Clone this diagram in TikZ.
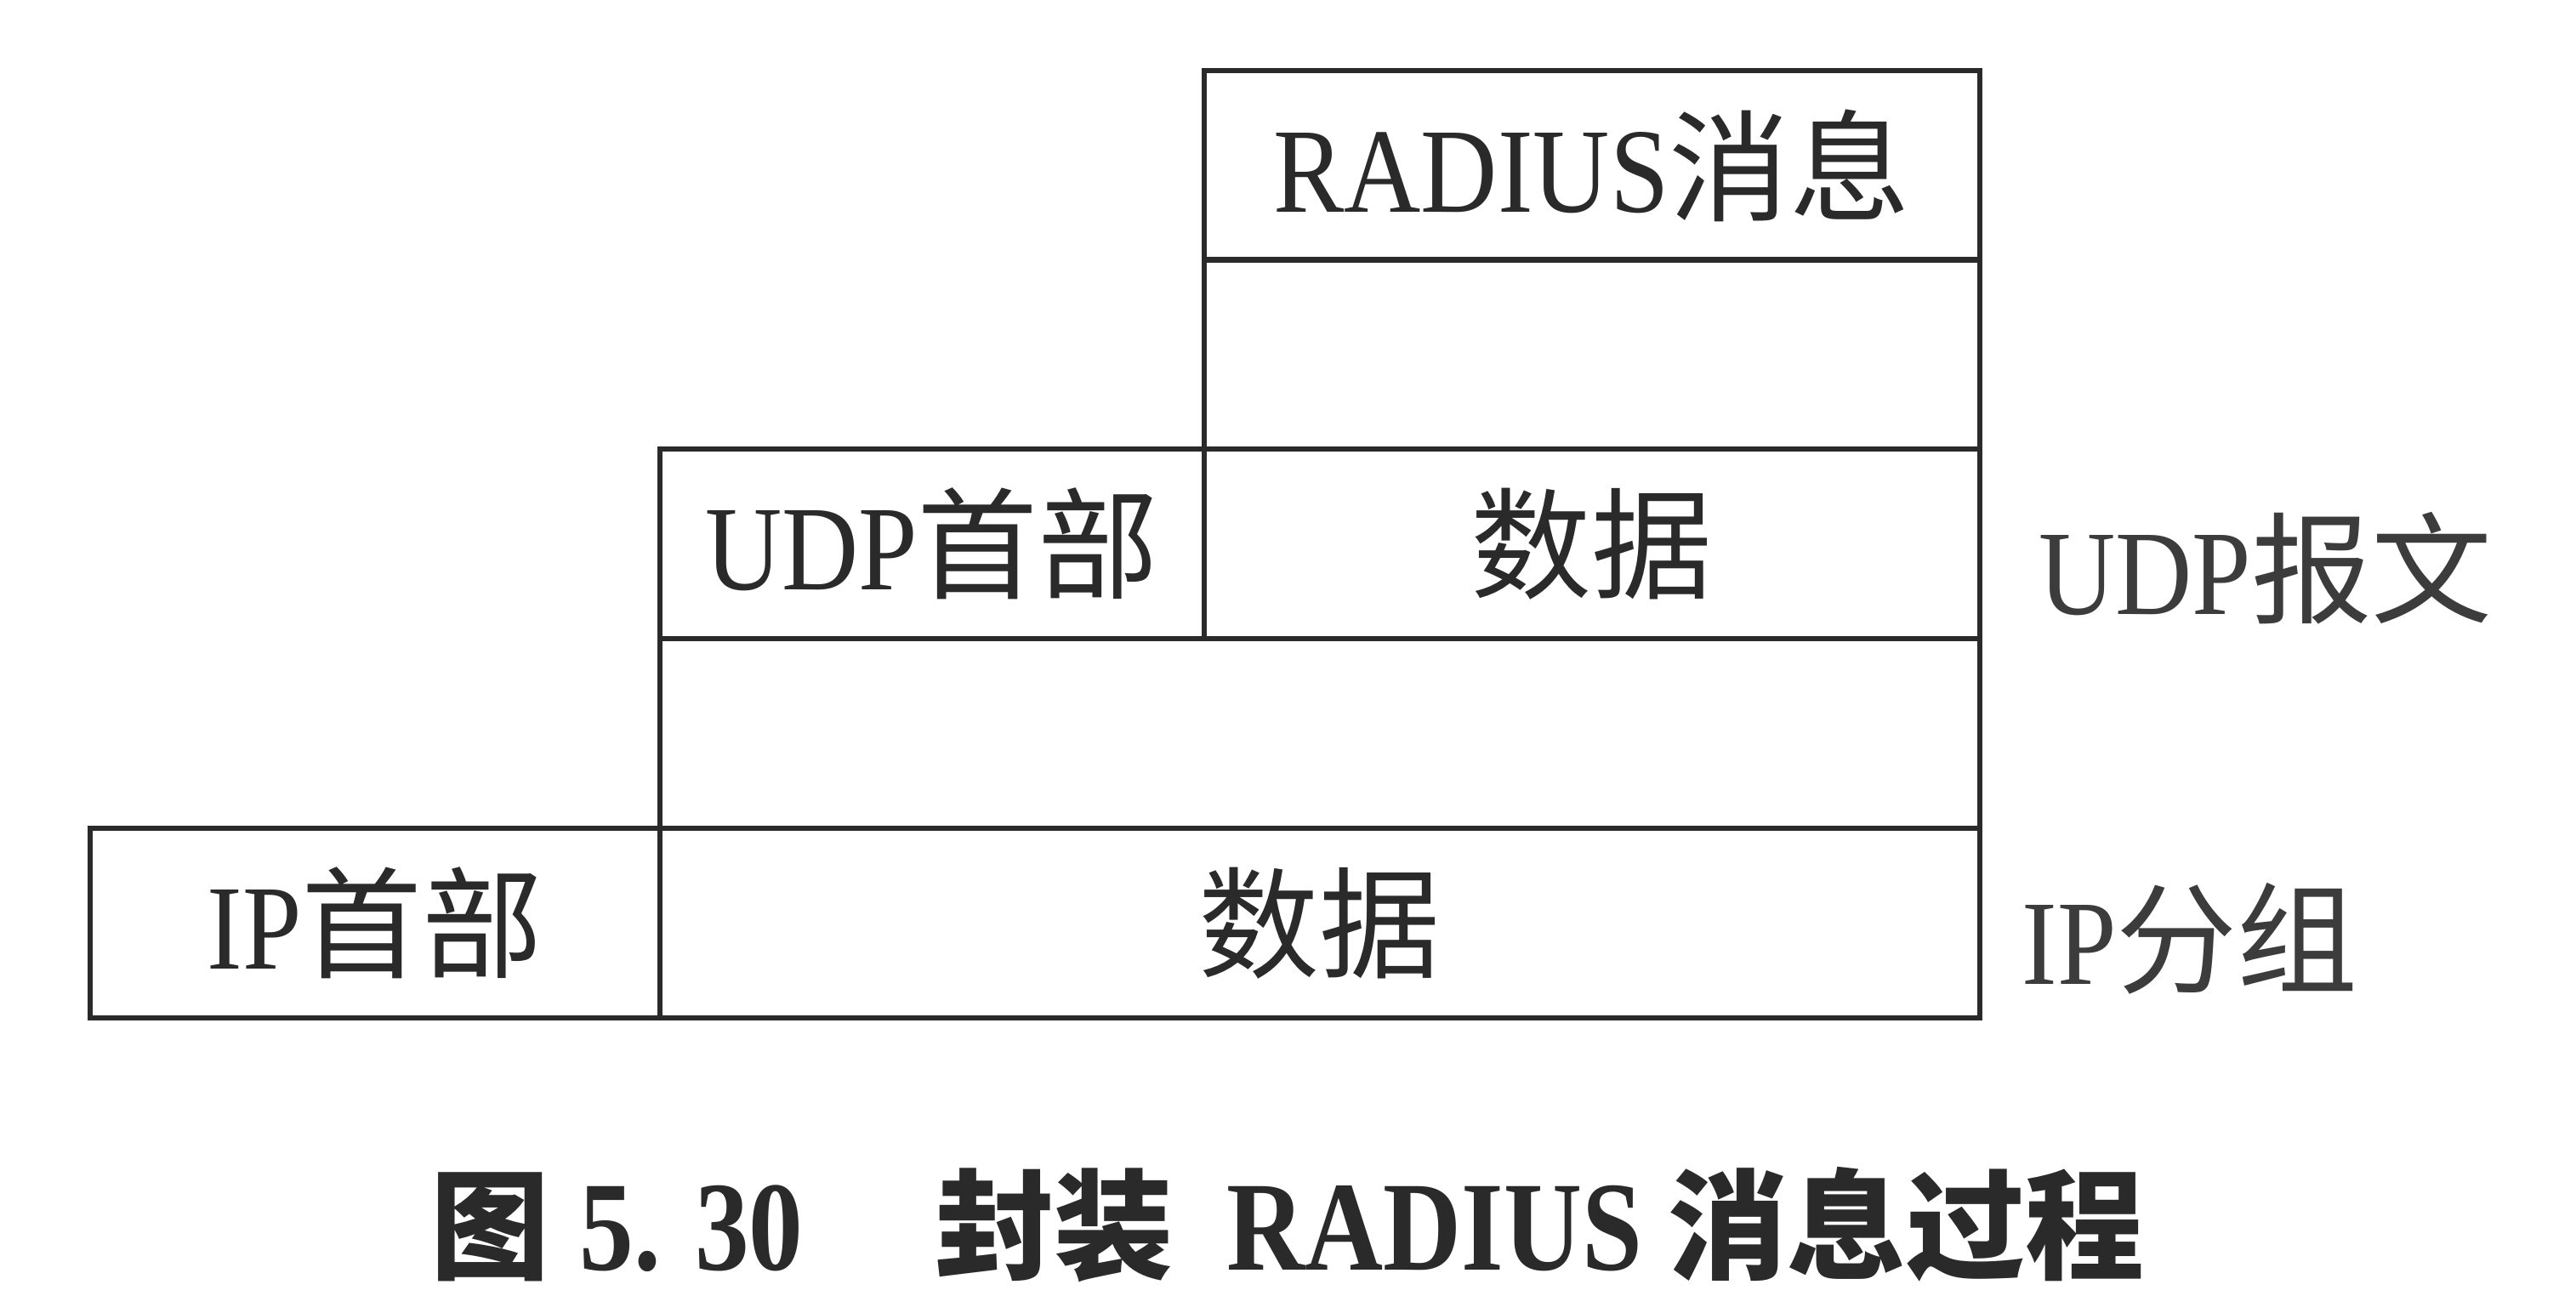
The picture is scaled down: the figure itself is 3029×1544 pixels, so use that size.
\documentclass[tikz,border=0pt]{standalone}
\usepackage{fontspec}
\setmainfont{Liberation Serif}[FakeStretch=0.88]
\newfontfamily\lat{Liberation Serif}[FakeStretch=0.88]
\newfontfamily\capl{Liberation Serif}[FakeStretch=0.85]
\newfontfamily\cjk{Noto Sans CJK SC}
\definecolor{ink}{HTML}{2A2A2A}
\definecolor{lbl}{HTML}{3C3C3C}
\begin{document}
\begin{tikzpicture}[x=0.1pt,y=-0.1pt,
  cell/.style={draw=ink, line width=0.6pt, rectangle, inner sep=0pt, outer sep=0pt,
    anchor=north west, minimum height=22.3pt, text=ink, font=\fontsize{14.2pt}{16pt}\selectfont},
  side/.style={text=lbl, inner sep=0pt, font=\fontsize{14.2pt}{16pt}\selectfont},
  captxt/.style={text=ink, inner sep=0pt, font=\fontsize{14pt}{16pt}\selectfont\bfseries}]
\useasboundingbox (0,0) rectangle (3029,1544);
% RADIUS layer
\node[cell, minimum width=91.2pt] (radius) at (1416,83) {\lat RADIUS\cjk 消息};
\node[cell, minimum width=91.2pt] (radpad) at (1416,305) {};
% UDP layer
\node[cell, minimum width=64.0pt] (udph) at (776,528) {\lat UDP\cjk 首部};
\node[cell, minimum width=91.2pt] (udpd) at (1416,528) {\cjk 数据};
\node[cell, minimum width=155.2pt] (udppad) at (776,751) {};
% IP layer
\node[cell, minimum width=67.0pt] (iph) at (106,974) {\lat IP\cjk 首部};
\node[cell, minimum width=155.2pt] (ipd) at (776,974) {\cjk 数据};
% side labels
\node[side] (udpmsg) at (2664,668) {\lat UDP\cjk 报文};
\node[side] (ipgrp) at (2575,1104) {\lat IP\cjk 分组};
% caption
\node[captxt] (caption) at (1514,1440) {{\cjk\bfseries 图}\hspace{3.5pt}{\capl\fontsize{15pt}{17pt}\selectfont\bfseries 5.\hspace{4pt}30}\hspace{15.5pt}{\cjk\bfseries 封装}\hspace{6.3pt}{\capl\fontsize{15pt}{17pt}\selectfont\bfseries RADIUS}\hspace{3pt}{\cjk\bfseries 消息过程}};
\end{tikzpicture}
\end{document}
